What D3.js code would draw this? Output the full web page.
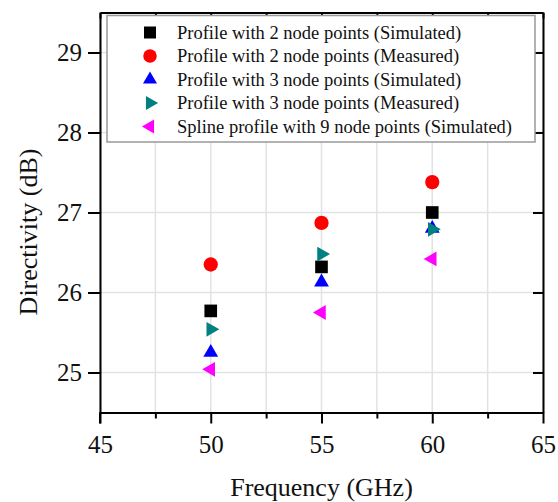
<!DOCTYPE html>
<html>
<head>
<meta charset="utf-8">
<script src="https://cdn.jsdelivr.net/npm/d3@7"></script>
<style>
  html, body { margin: 0; padding: 0; background: #fff; }
  svg { display: block; }
  svg text { font-family: "Liberation Serif", "Times New Roman", serif; }
</style>
</head>
<body>
<svg id="chart" width="558" height="502"></svg>
<script>
// Directivity versus frequency for several horn profiles
const frequencies = [50, 55, 60];
const profile2Simulated = [25.77, 26.32, 27.00];
const profile2Measured = [26.35, 26.87, 27.38];
const profile3Simulated = [25.25, 26.13, 26.80];
const profile3Measured = [25.54, 26.48, 26.79];
const splineSimulated = [25.04, 25.75, 26.42];

const xTicks = [45, 50, 55, 60, 65];
const xMinorTicks = [47.5, 52.5, 57.5, 62.5];
const yTicks = [25, 26, 27, 28, 29];

const seriesNames = [
  "Profile with 2 node points (Simulated)",
  "Profile with 2 node points (Measured)",
  "Profile with 3 node points (Simulated)",
  "Profile with 3 node points (Measured)",
  "Spline profile with 9 node points (Simulated)"
];
const seriesValues = [profile2Simulated, profile2Measured, profile3Simulated, profile3Measured, splineSimulated];
const seriesColors = ["#000000", "#ff0000", "#0000ff", "#008080", "#ff00ff"];
const seriesShapes = [
  { type: d3.symbolSquare, size: 160, rotate: 0 },
  { type: d3.symbolCircle, size: 160, rotate: 0 },
  { type: d3.symbolTriangle, size: 95, rotate: 0 },
  { type: d3.symbolTriangle, size: 95, rotate: 90 },
  { type: d3.symbolTriangle, size: 95, rotate: -90 }
];

const serif = "'Liberation Serif', 'Times New Roman', serif";
const plot = { left: 100, right: 543, top: 12.5, bottom: 412.5 };
const svg = d3.select("#chart");

const x = d3.scaleLinear().domain([45, 65]).range([plot.left, plot.right]);
const y = d3.scaleLinear().domain([24.5, 29.5]).range([plot.bottom, plot.top]);

// grid
const grid = svg.append("g");
grid.selectAll("line.vx").data(xTicks.concat(xMinorTicks)).join("line")
  .attr("x1", d => x(d)).attr("x2", d => x(d))
  .attr("y1", plot.top).attr("y2", plot.bottom)
  .attr("stroke", "#e2e2e2").attr("stroke-width", 1.5);
grid.selectAll("line.hy").data(yTicks).join("line")
  .attr("x1", plot.left).attr("x2", plot.right)
  .attr("y1", d => y(d)).attr("y2", d => y(d))
  .attr("stroke", "#e2e2e2").attr("stroke-width", 1.5);

// axes
const fmt = d3.format("d");
const bottomAxis = svg.append("g").attr("transform", `translate(0,${plot.bottom})`)
  .call(d3.axisBottom(x).tickValues(xTicks).tickFormat(fmt).tickSize(11).tickPadding(12).tickSizeOuter(0));
const bottomMinor = svg.append("g").attr("transform", `translate(0,${plot.bottom})`)
  .call(d3.axisBottom(x).tickValues(xMinorTicks).tickSize(6).tickFormat("").tickSizeOuter(0));
const leftAxis = svg.append("g").attr("transform", `translate(${plot.left},0)`)
  .call(d3.axisLeft(y).tickValues(yTicks).tickFormat(fmt).tickSize(12).tickPadding(6).tickSizeOuter(0));
const topAxis = svg.append("g").attr("transform", `translate(0,${plot.top})`)
  .call(d3.axisBottom(x).tickValues(xTicks.concat(xMinorTicks)).tickSize(6).tickFormat("").tickSizeOuter(0));
const rightAxis = svg.append("g").attr("transform", `translate(${plot.right},0)`)
  .call(d3.axisLeft(y).tickValues(yTicks).tickSize(10).tickFormat("").tickSizeOuter(0));

[bottomAxis, bottomMinor, leftAxis, topAxis, rightAxis].forEach(g => {
  g.attr("font-family", serif).attr("font-size", 25);
  g.select(".domain").attr("stroke", "#000").attr("stroke-width", 2);
  g.selectAll(".tick line").attr("stroke", "#000").attr("stroke-width", 2);
  g.selectAll(".tick text").attr("fill", "#111");
});
// left spine continues down to the first x tick
svg.append("line")
  .attr("x1", plot.left).attr("x2", plot.left)
  .attr("y1", plot.bottom).attr("y2", plot.bottom + 11)
  .attr("stroke", "#000").attr("stroke-width", 2);

// axis titles
svg.append("text")
  .attr("x", (plot.left + plot.right) / 2).attr("y", 496)
  .attr("text-anchor", "middle").attr("fill", "#111")
  .attr("font-family", serif).attr("font-size", 26)
  .text("Frequency (GHz)");
svg.append("text")
  .attr("transform", `translate(37,232) rotate(-90)`)
  .attr("text-anchor", "middle").attr("fill", "#111")
  .attr("font-family", serif).attr("font-size", 26)
  .text("Directivity (dB)");

// legend
const legend = svg.append("g");
legend.append("rect")
  .attr("x", 107).attr("y", 15.5).attr("width", 428).attr("height", 126.5)
  .attr("fill", "#fff").attr("stroke", "#999").attr("stroke-width", 1.5);
seriesNames.forEach((name, i) => {
  const cy = 32.5 + i * 23.5;
  const s = seriesShapes[i];
  legend.append("path")
    .attr("d", d3.symbol().type(s.type).size(s.size * 0.9)())
    .attr("transform", `translate(150,${cy}) rotate(${s.rotate})`)
    .attr("fill", seriesColors[i]);
  legend.append("text")
    .attr("x", 177).attr("y", cy + 6)
    .attr("fill", "#111")
    .attr("font-family", serif).attr("font-size", 18.5)
    .text(name);
});

// markers
seriesValues.forEach((vals, i) => {
  const s = seriesShapes[i];
  svg.append("g").selectAll("path").data(vals).join("path")
    .attr("d", d3.symbol().type(s.type).size(s.size)())
    .attr("transform", (d, j) => `translate(${x(frequencies[j])},${y(d)}) rotate(${s.rotate})`)
    .attr("fill", seriesColors[i]);
});
</script>
</body>
</html>
